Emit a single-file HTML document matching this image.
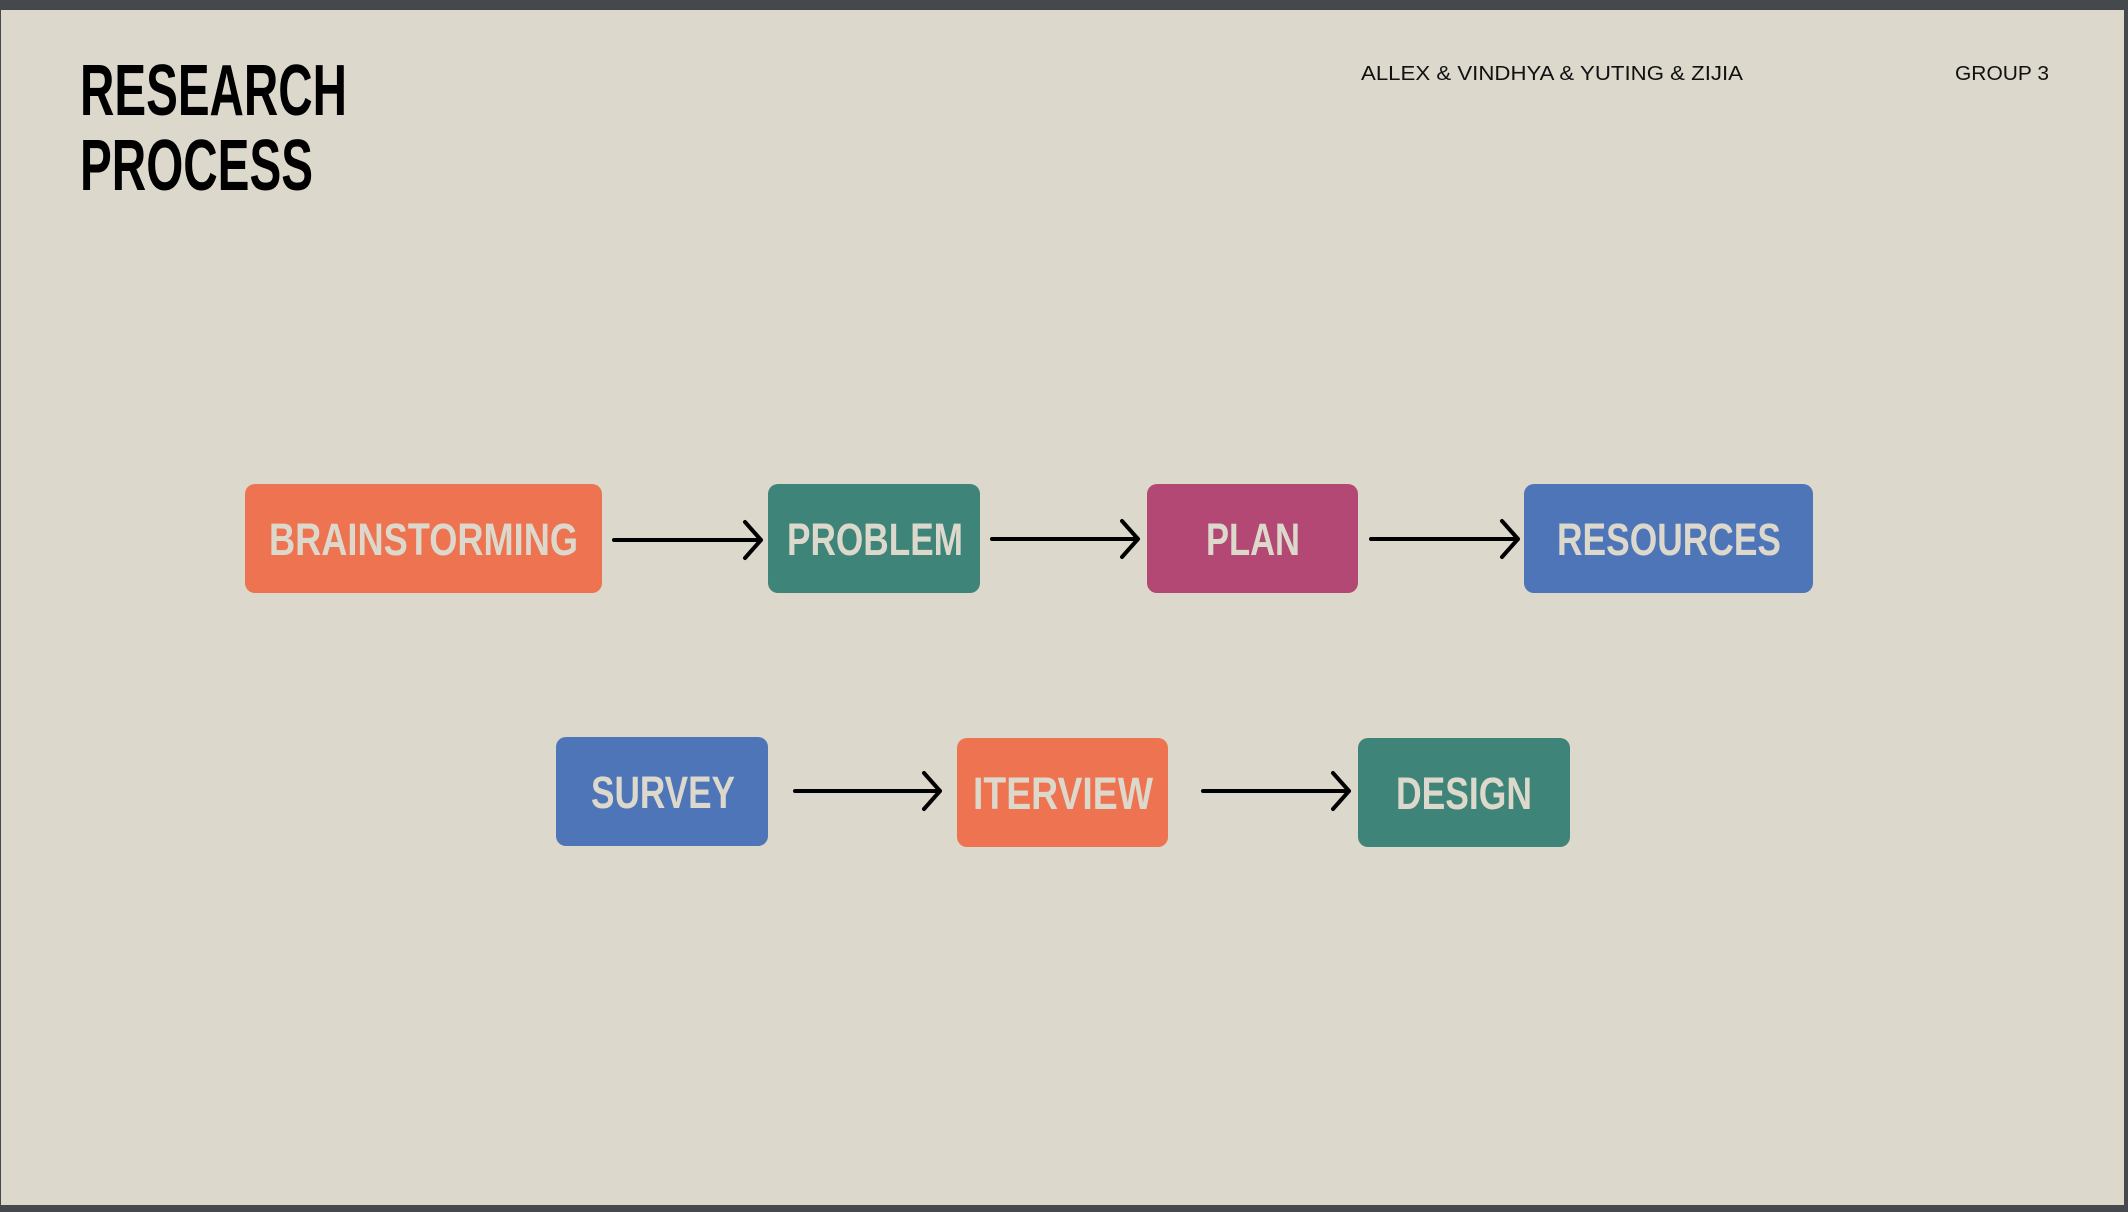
<!DOCTYPE html>
<html><head><meta charset="utf-8"><style>
html,body{margin:0;padding:0;background:#45484c;}
svg{display:block;}
</style></head><body>
<svg width="2128" height="1212" viewBox="0 0 2128 1212" xmlns="http://www.w3.org/2000/svg">
<rect x="0" y="0" width="2128" height="1212" fill="#45484c"/>
<rect x="1" y="10" width="2123" height="1195" fill="#DCD8CC"/>
<g font-family="'Liberation Sans Narrow','Liberation Sans',sans-serif" font-weight="bold" fill="#000">
<text x="80" y="115" font-size="72" textLength="267" lengthAdjust="spacingAndGlyphs">RESEARCH</text>
<text x="80" y="190" font-size="72" textLength="233" lengthAdjust="spacingAndGlyphs">PROCESS</text>
</g>
<g font-family="'Liberation Sans',sans-serif" font-size="20" fill="#111">
<text x="1361" y="80" textLength="382" lengthAdjust="spacingAndGlyphs">ALLEX &amp; VINDHYA &amp; YUTING &amp; ZIJIA</text>
<text x="1955" y="80" textLength="94" lengthAdjust="spacingAndGlyphs">GROUP 3</text>
</g>
<g>
<rect x="245" y="484" width="357" height="109" rx="10" fill="#EE7350"/>
<rect x="768" y="484" width="212" height="109" rx="10" fill="#3E8478"/>
<rect x="1147" y="484" width="211" height="109" rx="10" fill="#B34875"/>
<rect x="1524" y="484" width="289" height="109" rx="10" fill="#4E75B7"/>
<rect x="556" y="737" width="212" height="109" rx="10" fill="#4E75B7"/>
<rect x="957" y="738" width="211" height="109" rx="10" fill="#EE7350"/>
<rect x="1358" y="738" width="212" height="109" rx="10" fill="#3E8478"/>
</g>
<g font-family="'Liberation Sans Narrow','Liberation Sans',sans-serif" font-weight="bold" font-size="45" fill="#DCD8CC">
<text x="269" y="555" textLength="309" lengthAdjust="spacingAndGlyphs">BRAINSTORMING</text>
<text x="787" y="555" textLength="176" lengthAdjust="spacingAndGlyphs">PROBLEM</text>
<text x="1206" y="555" textLength="94" lengthAdjust="spacingAndGlyphs">PLAN</text>
<text x="1557" y="555" textLength="224" lengthAdjust="spacingAndGlyphs">RESOURCES</text>
<text x="591" y="808" textLength="144" lengthAdjust="spacingAndGlyphs">SURVEY</text>
<text x="973" y="809" textLength="180" lengthAdjust="spacingAndGlyphs">ITERVIEW</text>
<text x="1396" y="809" textLength="136" lengthAdjust="spacingAndGlyphs">DESIGN</text>
</g>
<g stroke="#000" stroke-width="4" fill="none" stroke-linecap="round" stroke-linejoin="round">
<path d="M614 540 H761 M745 522 L761 540 L745 558"/>
<path d="M992 539 H1138 M1122 521 L1138 539 L1122 557"/>
<path d="M1371 539 H1518 M1502 521 L1518 539 L1502 557"/>
<path d="M795 791 H940 M924 773 L940 791 L924 809"/>
<path d="M1203 791 H1349 M1333 773 L1349 791 L1333 809"/>
</g>
</svg>
</body></html>
